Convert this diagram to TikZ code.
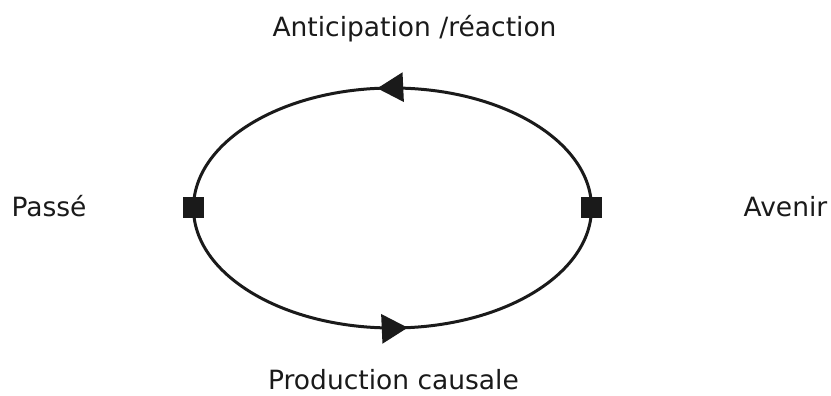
\documentclass[tikz,border=0pt]{standalone}
\usepackage{fontspec}
\setmainfont{DejaVu Sans}
\usepackage{xcolor}
\definecolor{inkdark}{HTML}{1A1A1A}
\usepackage{tikz}
\usetikzlibrary{arrows.meta, decorations.markings}
\tikzset{
  instant/.style ={rectangle, fill=inkdark, minimum size=21pt, inner sep=0pt},
  tlabel/.style  ={text=inkdark, inner sep=0pt, anchor=base, font=\fontsize{26.5}{30}\selectfont},
  cycleline/.style={line width=3pt, color=inkdark},
  flowmark/.style ={postaction={decorate, decoration={markings,
                    mark=at position #1 with {\arrow{Triangle[length=26pt, width=29pt]}}}}},
}
\begin{document}
\begin{tikzpicture}[x=1pt, y=1pt]
  \useasboundingbox (0,0) rectangle (831,396);
  \node[instant] (past) at (193.5,188) {};
  \node[instant] (future) at (591.5,188) {};
  \node[tlabel] (lpast) at (49,179) {Passé};
  \node[tlabel] (lfuture) at (785.5,179) {Avenir};
  \node[tlabel] (ltop) at (414.5,359) {Anticipation /réaction};
  \node[tlabel] (lbot) at (393.5,6) {Production causale};
  % upper arc: avenir -> passe, lower arc: passe -> avenir
  \draw[cycleline, flowmark=0.53] (future.center) arc[start angle=0, end angle=180, x radius=199, y radius=120];
  \draw[cycleline, flowmark=0.53] (past.center) arc[start angle=180, end angle=360, x radius=199, y radius=120];
  \node[instant] at (past) {};
  \node[instant] at (future) {};
\end{tikzpicture}
\end{document}
